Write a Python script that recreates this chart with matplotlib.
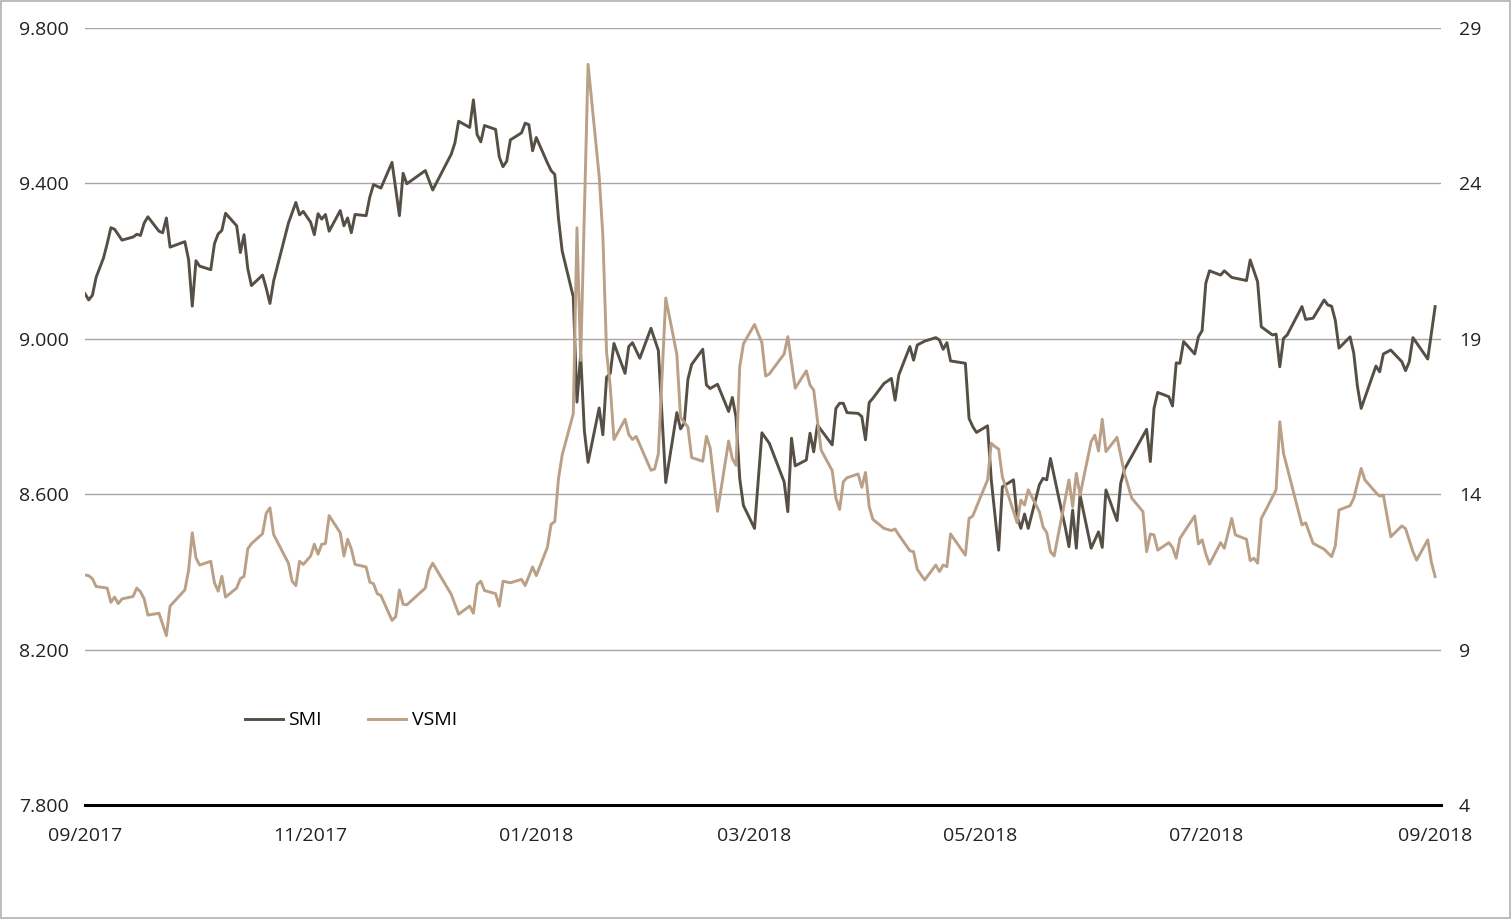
import pandas as pd
import matplotlib
matplotlib.use("Agg")
import matplotlib.pyplot as plt
import matplotlib.dates as mdates
from matplotlib.ticker import FuncFormatter, FixedLocator
from matplotlib.patches import Rectangle

plt.rcParams['font.family'] = ['Open Sans', 'DejaVu Sans']

# SMI (linke Achse)
smi_dates = [
    '2017-09-01', '2017-09-02', '2017-09-03', '2017-09-04', '2017-09-06', '2017-09-07', '2017-09-08',
    '2017-09-09', '2017-09-11', '2017-09-14', '2017-09-15', '2017-09-16', '2017-09-17', '2017-09-18',
    '2017-09-21', '2017-09-22', '2017-09-23', '2017-09-24', '2017-09-28', '2017-09-29', '2017-09-30',
    '2017-10-01', '2017-10-02', '2017-10-05', '2017-10-06', '2017-10-07', '2017-10-08', '2017-10-09',
    '2017-10-12', '2017-10-13', '2017-10-14', '2017-10-15', '2017-10-16', '2017-10-19', '2017-10-20',
    '2017-10-21', '2017-10-22', '2017-10-26', '2017-10-28', '2017-10-29', '2017-10-30',
    '2017-11-01', '2017-11-02', '2017-11-03', '2017-11-04', '2017-11-05', '2017-11-06', '2017-11-09',
    '2017-11-10', '2017-11-11', '2017-11-12', '2017-11-13', '2017-11-16', '2017-11-17', '2017-11-18',
    '2017-11-20', '2017-11-23', '2017-11-25', '2017-11-26', '2017-11-27', '2017-12-02', '2017-12-04',
    '2017-12-09', '2017-12-10', '2017-12-11', '2017-12-14', '2017-12-15', '2017-12-16', '2017-12-17',
    '2017-12-18', '2017-12-21', '2017-12-22', '2017-12-23', '2017-12-24', '2017-12-25', '2017-12-28',
    '2017-12-29', '2017-12-30', '2017-12-31', '2018-01-01',
    '2018-01-04', '2018-01-05', '2018-01-06', '2018-01-07', '2018-01-08', '2018-01-11', '2018-01-12',
    '2018-01-13', '2018-01-14', '2018-01-15', '2018-01-18', '2018-01-19', '2018-01-20', '2018-01-21',
    '2018-01-22', '2018-01-25', '2018-01-26', '2018-01-27', '2018-01-29', '2018-02-01', '2018-02-03',
    '2018-02-05', '2018-02-08', '2018-02-09', '2018-02-10', '2018-02-11', '2018-02-12', '2018-02-15',
    '2018-02-16', '2018-02-17', '2018-02-19', '2018-02-22', '2018-02-23', '2018-02-24', '2018-02-25',
    '2018-02-26', '2018-03-01', '2018-03-03',
    '2018-03-05', '2018-03-09', '2018-03-10', '2018-03-11', '2018-03-12', '2018-03-15', '2018-03-16',
    '2018-03-17', '2018-03-18', '2018-03-22', '2018-03-23', '2018-03-24', '2018-03-25', '2018-03-26',
    '2018-03-29', '2018-03-30', '2018-03-31', '2018-04-01', '2018-04-02', '2018-04-05', '2018-04-07',
    '2018-04-08', '2018-04-09', '2018-04-12', '2018-04-13', '2018-04-14', '2018-04-16', '2018-04-19',
    '2018-04-20', '2018-04-21', '2018-04-22', '2018-04-23', '2018-04-27', '2018-04-28', '2018-04-29',
    '2018-04-30', '2018-05-03', '2018-05-04', '2018-05-06', '2018-05-07',
    '2018-05-10', '2018-05-11', '2018-05-12', '2018-05-13', '2018-05-14', '2018-05-17', '2018-05-18',
    '2018-05-19', '2018-05-20', '2018-05-22', '2018-05-24', '2018-05-25', '2018-05-26', '2018-05-27',
    '2018-05-28', '2018-05-31', '2018-06-02', '2018-06-03', '2018-06-04', '2018-06-07', '2018-06-08',
    '2018-06-09', '2018-06-15', '2018-06-16', '2018-06-17', '2018-06-18', '2018-06-21', '2018-06-22',
    '2018-06-23', '2018-06-24', '2018-06-25', '2018-06-28', '2018-06-29', '2018-06-30', '2018-07-01',
    '2018-07-02',
    '2018-07-05', '2018-07-06', '2018-07-08', '2018-07-12', '2018-07-13', '2018-07-15', '2018-07-16',
    '2018-07-19', '2018-07-20', '2018-07-21', '2018-07-22', '2018-07-23', '2018-07-27', '2018-07-28',
    '2018-07-30', '2018-08-02', '2018-08-03', '2018-08-04', '2018-08-05', '2018-08-06', '2018-08-09',
    '2018-08-10', '2018-08-11', '2018-08-12', '2018-08-16', '2018-08-17', '2018-08-18', '2018-08-20',
    '2018-08-23', '2018-08-24', '2018-08-25', '2018-08-26', '2018-08-30', '2018-09-01',
]
smi = [
    9116, 9100, 9112, 9158, 9208, 9245, 9286,
    9282, 9254, 9262, 9269, 9266, 9298, 9314,
    9277, 9273, 9311, 9236, 9250, 9204, 9084,
    9201, 9187, 9178, 9245, 9270, 9279, 9323,
    9291, 9222, 9268, 9181, 9137, 9164, 9130,
    9091, 9149, 9298, 9351, 9319, 9328,
    9300, 9268, 9322, 9308, 9320, 9277, 9330,
    9291, 9311, 9273, 9320, 9317, 9365, 9397,
    9388, 9454, 9317, 9426, 9399, 9433, 9383,
    9475, 9504, 9560, 9544, 9615, 9526, 9507,
    9549, 9539, 9468, 9443, 9457, 9512, 9530,
    9555, 9551, 9484, 9518,
    9453, 9433, 9423, 9310, 9226, 9108, 8837,
    8960, 8763, 8682, 8822, 8753, 8901, 8911,
    8988, 8911, 8980, 8990, 8950, 9027, 8970,
    8630, 8810, 8768, 8783, 8896, 8934, 8973,
    8881, 8872, 8883, 8813, 8849, 8798, 8640,
    8571, 8512, 8758,
    8731, 8632, 8555, 8744, 8673, 8688, 8757,
    8709, 8778, 8727, 8821, 8834, 8834, 8810,
    8808, 8800, 8740, 8836, 8847, 8885, 8898,
    8842, 8907, 8980, 8945, 8984, 8994, 9003,
    8997, 8973, 8990, 8943, 8937, 8795, 8774,
    8759, 8776, 8637, 8456, 8619,
    8637, 8542, 8512, 8549, 8512, 8624, 8641,
    8637, 8692, 8602, 8515, 8465, 8559, 8461,
    8598, 8461, 8503, 8463, 8611, 8532, 8628,
    8664, 8767, 8684, 8821, 8862, 8851, 8827,
    8938, 8937, 8993, 8961, 9005, 9021, 9143,
    9175,
    9164, 9175, 9158, 9150, 9203, 9147, 9031,
    9010, 9012, 8928, 9001, 9010, 9083, 9050,
    9053, 9100, 9087, 9084, 9048, 8976, 9005,
    8963, 8877, 8821, 8930, 8915, 8961, 8971,
    8941, 8918, 8941, 9003, 8948, 9083,
]

# VSMI (rechte Achse)
vsmi_dates = [
    '2017-09-01', '2017-09-02', '2017-09-03', '2017-09-04', '2017-09-07', '2017-09-08', '2017-09-09',
    '2017-09-10', '2017-09-11', '2017-09-14', '2017-09-15', '2017-09-16', '2017-09-17', '2017-09-18',
    '2017-09-21', '2017-09-23', '2017-09-24', '2017-09-28', '2017-09-29', '2017-09-30', '2017-10-01',
    '2017-10-02', '2017-10-05', '2017-10-06', '2017-10-07', '2017-10-08', '2017-10-09', '2017-10-12',
    '2017-10-13', '2017-10-14', '2017-10-15', '2017-10-16', '2017-10-19', '2017-10-20', '2017-10-21',
    '2017-10-22', '2017-10-26', '2017-10-27', '2017-10-28', '2017-10-29', '2017-10-30',
    '2017-11-01', '2017-11-02', '2017-11-03', '2017-11-04', '2017-11-05', '2017-11-06', '2017-11-09',
    '2017-11-10', '2017-11-11', '2017-11-12', '2017-11-13', '2017-11-16', '2017-11-17', '2017-11-18',
    '2017-11-19', '2017-11-20', '2017-11-23', '2017-11-24', '2017-11-25', '2017-11-26', '2017-11-27',
    '2017-12-02', '2017-12-03', '2017-12-04', '2017-12-09', '2017-12-11', '2017-12-14', '2017-12-15',
    '2017-12-16', '2017-12-17', '2017-12-18', '2017-12-21', '2017-12-22', '2017-12-23', '2017-12-25',
    '2017-12-28', '2017-12-29', '2017-12-31', '2018-01-01',
    '2018-01-04', '2018-01-05', '2018-01-06', '2018-01-07', '2018-01-08', '2018-01-11', '2018-01-12',
    '2018-01-13', '2018-01-15', '2018-01-18', '2018-01-19', '2018-01-20', '2018-01-21', '2018-01-22',
    '2018-01-25', '2018-01-26', '2018-01-27', '2018-01-28', '2018-02-01', '2018-02-02', '2018-02-03',
    '2018-02-05', '2018-02-08', '2018-02-09', '2018-02-11', '2018-02-12', '2018-02-15', '2018-02-16',
    '2018-02-17', '2018-02-19', '2018-02-22', '2018-02-23', '2018-02-24', '2018-02-25', '2018-02-26',
    '2018-03-01', '2018-03-03', '2018-03-04',
    '2018-03-05', '2018-03-09', '2018-03-10', '2018-03-12', '2018-03-15', '2018-03-16', '2018-03-17',
    '2018-03-18', '2018-03-19', '2018-03-22', '2018-03-23', '2018-03-24', '2018-03-25', '2018-03-26',
    '2018-03-29', '2018-03-30', '2018-03-31', '2018-04-01', '2018-04-02', '2018-04-05', '2018-04-07',
    '2018-04-08', '2018-04-09', '2018-04-12', '2018-04-13', '2018-04-14', '2018-04-16', '2018-04-19',
    '2018-04-20', '2018-04-21', '2018-04-22', '2018-04-23', '2018-04-27', '2018-04-28', '2018-04-29',
    '2018-05-03', '2018-05-04', '2018-05-05', '2018-05-06', '2018-05-07',
    '2018-05-11', '2018-05-12', '2018-05-13', '2018-05-14', '2018-05-17', '2018-05-18', '2018-05-19',
    '2018-05-20', '2018-05-21', '2018-05-25', '2018-05-26', '2018-05-27', '2018-05-28', '2018-05-31',
    '2018-06-01', '2018-06-02', '2018-06-03', '2018-06-04', '2018-06-07', '2018-06-09', '2018-06-11',
    '2018-06-14', '2018-06-15', '2018-06-16', '2018-06-17', '2018-06-18', '2018-06-21', '2018-06-22',
    '2018-06-23', '2018-06-24', '2018-06-28', '2018-06-29', '2018-06-30', '2018-07-01', '2018-07-02',
    '2018-07-05',
    '2018-07-06', '2018-07-08', '2018-07-09', '2018-07-12', '2018-07-13', '2018-07-14', '2018-07-15',
    '2018-07-16', '2018-07-17', '2018-07-20', '2018-07-21', '2018-07-22', '2018-07-27', '2018-07-28',
    '2018-07-30', '2018-08-02', '2018-08-04', '2018-08-05', '2018-08-06', '2018-08-09', '2018-08-10',
    '2018-08-12', '2018-08-13', '2018-08-16', '2018-08-17', '2018-08-18', '2018-08-20', '2018-08-23',
    '2018-08-24', '2018-08-26', '2018-08-27', '2018-08-30', '2018-08-31', '2018-09-01',
]
vsmi = [
    11.40, 11.38, 11.28, 11.03, 10.98, 10.52, 10.69,
    10.48, 10.63, 10.71, 10.98, 10.86, 10.63, 10.11,
    10.17, 9.45, 10.40, 10.92, 11.55, 12.76, 11.95,
    11.72, 11.84, 11.15, 10.88, 11.36, 10.69, 10.98,
    11.28, 11.36, 12.24, 12.41, 12.73, 13.39, 13.56,
    12.70, 11.78, 11.20, 11.06, 11.84, 11.74,
    12.01, 12.39, 12.07, 12.39, 12.41, 13.31, 12.76,
    12.01, 12.55, 12.24, 11.74, 11.66, 11.17, 11.12,
    10.80, 10.74, 9.94, 10.06, 10.92, 10.46, 10.44,
    10.98, 11.55, 11.78, 10.78, 10.14, 10.40, 10.17,
    11.09, 11.20, 10.90, 10.80, 10.40, 11.20, 11.15,
    11.26, 11.06, 11.66, 11.38,
    12.29, 13.03, 13.12, 14.50, 15.26, 16.59, 22.57,
    18.30, 27.83, 24.23, 22.32, 18.57, 17.46, 15.76,
    16.41, 15.92, 15.76, 15.86, 14.77, 14.81, 15.30,
    20.31, 18.50, 16.47, 16.16, 15.18, 15.06, 15.86,
    15.49, 13.45, 15.71, 15.14, 14.93, 18.10, 18.84,
    19.46, 18.87, 17.80,
    17.87, 18.51, 19.07, 17.41, 17.97, 17.51, 17.35,
    16.39, 15.42, 14.76, 13.87, 13.51, 14.40, 14.53,
    14.65, 14.22, 14.70, 13.60, 13.19, 12.90, 12.83,
    12.88, 12.69, 12.18, 12.15, 11.58, 11.24, 11.72,
    11.51, 11.72, 11.67, 12.72, 12.04, 13.22, 13.30,
    14.46, 15.64, 15.53, 15.45, 14.56,
    13.08, 13.81, 13.65, 14.14, 13.44, 12.95, 12.76,
    12.15, 12.01, 14.46, 13.60, 14.67, 13.97, 15.69,
    15.90, 15.39, 16.41, 15.37, 15.83, 14.67, 13.87,
    13.44, 12.15, 12.72, 12.69, 12.20, 12.44, 12.29,
    11.94, 12.58, 13.30, 12.40, 12.53, 12.08, 11.75,
    12.44,
    12.26, 13.22, 12.69, 12.55, 11.86, 11.94, 11.78,
    13.22, 13.44, 14.14, 16.33, 15.32, 13.01, 13.08,
    12.42, 12.23, 11.99, 12.33, 13.49, 13.63, 13.87,
    14.83, 14.46, 14.05, 13.94, 13.97, 12.63, 12.98,
    12.89, 12.15, 11.88, 12.53, 11.80, 11.35,
]

left_ticks = [7800, 8200, 8600, 9000, 9400, 9800]
right_ticks = [4, 9, 14, 19, 24, 29]
month_ticks = ['2017-09-01', '2017-11-01', '2018-01-01', '2018-03-01',
               '2018-05-01', '2018-07-01', '2018-09-01']

smi_color = '#564f46'
vsmi_color = '#baa087'

fig = plt.figure(figsize=(15.11, 9.19), dpi=100)
ax = fig.add_axes([85 / 1511, 114 / 919, 1356 / 1511, 777 / 919])
ax2 = ax.twinx()

l1, = ax.plot(pd.to_datetime(smi_dates), smi, color=smi_color, lw=2.1, label='SMI', zorder=3)
l2, = ax2.plot(pd.to_datetime(vsmi_dates), vsmi, color=vsmi_color, lw=2.1, label='VSMI', zorder=2)

ax.set_xlim(pd.Timestamp('2017-09-01'), pd.Timestamp('2018-09-02 14:00'))
ax.set_ylim(7800, 9800)
ax2.set_ylim(4, 29)

ax.yaxis.set_major_locator(FixedLocator(left_ticks))
ax.yaxis.set_major_formatter(FuncFormatter(lambda v, p: f'{int(v):,}'.replace(',', '.')))
ax2.yaxis.set_major_locator(FixedLocator(right_ticks))
ax.xaxis.set_major_locator(FixedLocator(mdates.date2num(pd.to_datetime(month_ticks))))
ax.xaxis.set_major_formatter(mdates.DateFormatter('%m/%Y'))

ax.grid(axis='y', color='#a6a6a6', lw=1.0)
ax.set_axisbelow(True)
for a in (ax, ax2):
    for s in ('top', 'left', 'right'):
        a.spines[s].set_visible(False)
ax2.spines['bottom'].set_visible(False)
ax.spines['bottom'].set_color('black')
ax.spines['bottom'].set_linewidth(2.2)
ax.spines['bottom'].set_zorder(5)

ax.tick_params(axis='y', length=0, pad=11.5, labelsize=14, labelcolor='#222222')
ax2.tick_params(axis='y', length=0, pad=13, labelsize=14, labelcolor='#222222')
ax.tick_params(axis='x', length=0, pad=16, labelsize=14, labelcolor='#222222')

ax2.legend([l1, l2], ['SMI', 'VSMI'], loc='center', bbox_to_anchor=(0.196, 0.109), ncol=2,
           frameon=False, fontsize=14, handlelength=1.95, handletextpad=0.3, columnspacing=2.35)

fig.patches.append(Rectangle((0.0005, 0.001), 0.999, 0.998, transform=fig.transFigure,
                             fill=False, edgecolor='#b0b0b0', lw=1.2))

fig.savefig('out.png', dpi=100)
